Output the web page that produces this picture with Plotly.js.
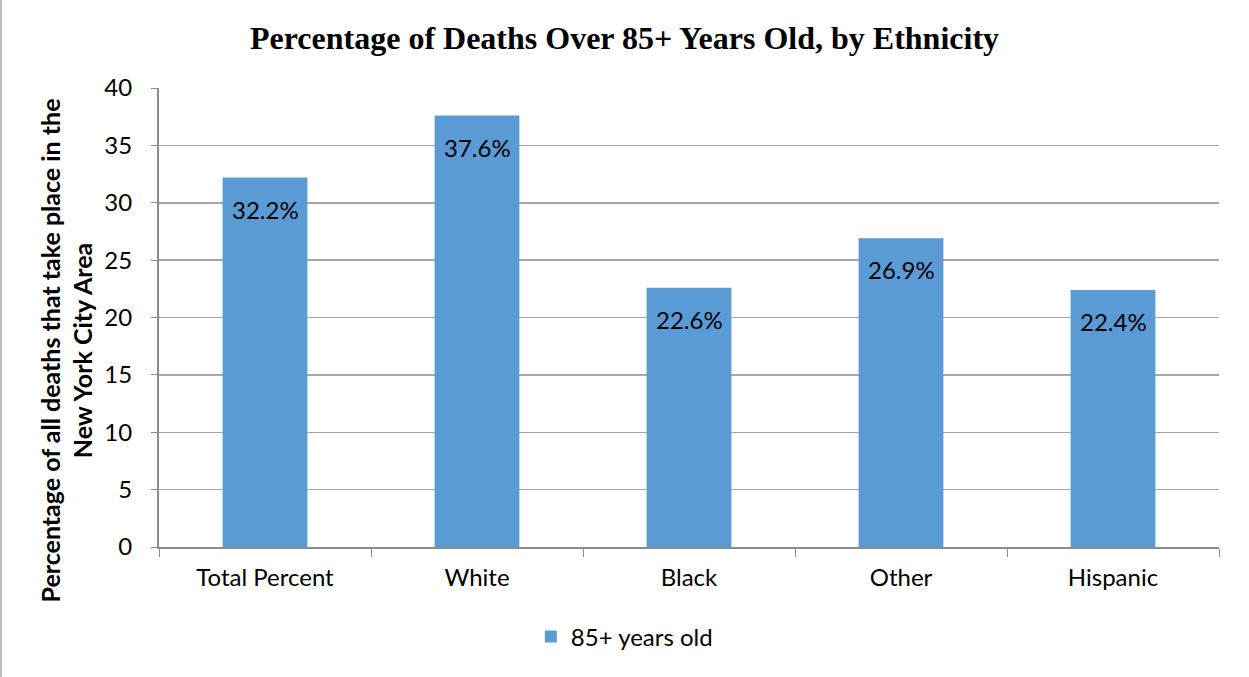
<!DOCTYPE html>
<html><head><meta charset="utf-8">
<script src="https://cdn.plot.ly/plotly-3.0.1.min.js"></script>
<style>
html,body{margin:0;padding:0;background:#fff;}
#wrap{position:relative;width:1249px;height:677px;overflow:hidden;}
#frame{position:absolute;left:0px;top:0px;width:1247px;height:677px;border-left:2px solid #bdbdbd;border-right:1px solid #a6a6a6;box-sizing:content-box;pointer-events:none;}
#chart{position:absolute;left:0;top:0;width:1249px;height:677px;}
</style></head>
<body><div id="wrap"><div id="chart"></div><div id="frame"></div></div>
<script>
const categories = ["Total Percent", "White", "Black", "Other", "Hispanic"];
const values = [32.2, 37.6, 22.6, 26.9, 22.4];
const valueLabels = ["32.2%", "37.6%", "22.6%", "26.9%", "22.4%"];
const seriesName = "85+ years old";
const yTicks = [0, 5, 10, 15, 20, 25, 30, 35, 40];

const labelFont = {family: "Lato, 'Noto Sans', sans-serif", size: 24, color: "#000"};

const trace = {
  type: "bar",
  x: categories,
  y: values,
  name: seriesName,
  marker: {color: "#5B9BD5"},
  width: 0.4,
  showlegend: true,
  hoverinfo: "none"
};

const annotations = categories.map((c, i) => ({
  x: c, y: values[i], xref: "x", yref: "y",
  text: valueLabels[i], showarrow: false,
  yanchor: "top", yshift: -15, font: labelFont
}));

annotations.push({
  xref: "paper", yref: "paper", x: 0, y: 0.5,
  xanchor: "center", yanchor: "middle",
  xshift: -93, yshift: -33,
  textangle: -90,
  text: "Percentage of all deaths that take place in the<br>New York City Area",
  showarrow: false,
  font: {family: "Lato, 'Noto Sans', sans-serif", size: 25, color: "#000", weight: "bold"}
});

const layout = {
  width: 1249, height: 677,
  margin: {l: 159, r: 30, t: 88, b: 130},
  paper_bgcolor: "#fff", plot_bgcolor: "#fff",
  title: {
    text: "<b>Percentage of Deaths Over 85+ Years Old, by Ethnicity</b>",
    font: {family: "'Liberation Serif', 'Times New Roman', serif", size: 32, color: "#000"},
    x: 0.5, xref: "container", xanchor: "center", y: 1 - 38/677, yanchor: "middle"
  },
  xaxis: {
    type: "category",
    tickson: "boundaries",
    ticks: "outside", ticklen: 8, tickcolor: "#8c8c8c", tickwidth: 1,
    showline: true, linecolor: "#8c8c8c", linewidth: 2,
    showgrid: false, zeroline: false,
    tickfont: labelFont,
    ticklabelstandoff: 8
  },
  yaxis: {
    range: [0, 40],
    tickvals: yTicks,
    ticktext: yTicks.map(String),
    ticks: "outside", ticklen: 6, tickcolor: "#8c8c8c",
    showline: true, linecolor: "#8c8c8c", linewidth: 2,
    showgrid: true, gridcolor: "#a6a6a6", gridwidth: 1.5,
    zeroline: false,
    tickfont: labelFont,
    ticklabelstandoff: 14
  },
  legend: {
    orientation: "h", x: 0.439, xanchor: "center", y: -0.196, yanchor: "middle",
    font: labelFont, itemwidth: 30
  },
  annotations: annotations,
  bargap: 0.6
};

Plotly.newPlot("chart", [trace], layout, {displayModeBar: false, staticPlot: true});
</script></body></html>
